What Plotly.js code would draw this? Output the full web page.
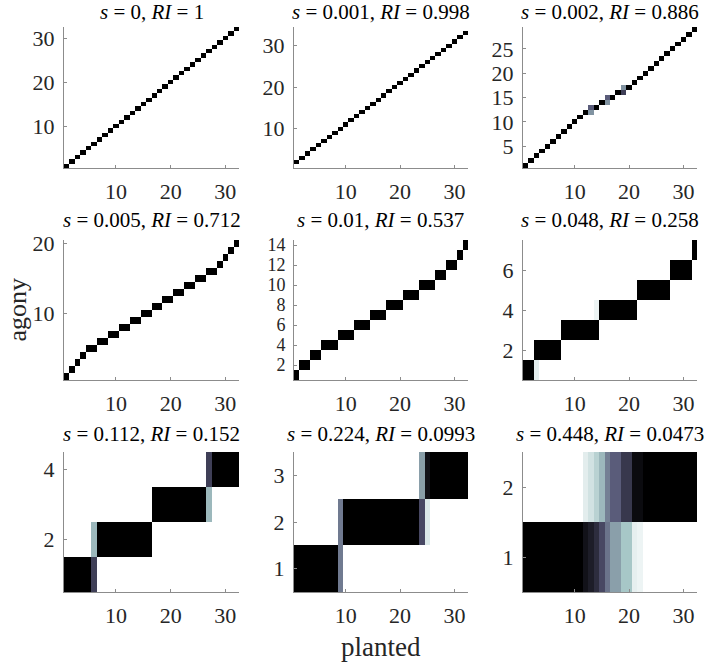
<!DOCTYPE html>
<html>
<head>
<meta charset="utf-8">
<script src="https://cdn.plot.ly/plotly-3.0.1.min.js"></script>
<style>
html,body{margin:0;padding:0;background:#fff;}
#chart{width:716px;height:666px;}
</style>
</head>
<body>
<div id="chart"></div>
<script>
// ---------------- DATA ----------------
const planted = [1,2,3,4,5,6,7,8,9,10,11,12,13,14,15,16,17,18,19,20,21,22,23,24,25,26,27,28,29,30,31,32];
const sValues  = ['0','0.001','0.002','0.005','0.01','0.048','0.112','0.224','0.448'];
const riValues = ['1','0.998','0.886','0.712','0.537','0.258','0.152','0.0993','0.0473'];
const nLevels  = [32, 34, 29, 20, 14, 7, 4, 3, 2];

// dominant agony level of every planted node (one per planted index)
const levelsP1 = [1,2,3,4,5,6,7,8,9,10,11,12,13,14,15,16,17,18,19,20,21,22,23,24,25,26,27,28,29,30,31,32];
const levelsP2 = [2,3,4,5,6,7,8,9,10,11,12,13,14,15,16,17,18,19,20,21,22,23,24,25,26,27,28,29,30,31,32,33];
const levelsP3 = [1,2,3,4,5,6,7,8,9,10,11,12,13,13,14,15,15,16,16,17,18,19,20,21,22,23,24,25,26,27,28,29];
const levelsP4 = [1,2,3,4,5,5,6,6,7,7,8,8,9,9,10,10,11,11,12,12,13,13,14,14,15,15,16,16,17,18,19,20];
const levelsP5 = [1,2,2,3,3,4,4,4,5,5,5,6,6,6,7,7,7,8,8,8,9,9,9,10,10,10,11,11,12,12,13,14];
const levelsP6 = [1,1,2,2,2,2,2,3,3,3,3,3,3,3,4,4,4,4,4,4,4,5,5,5,5,5,5,6,6,6,6,7];
const levelsP7 = [1,1,1,1,1,1,2,2,2,2,2,2,2,2,2,2,3,3,3,3,3,3,3,3,3,3,4,4,4,4,4,4];
const levelsP8 = [1,1,1,1,1,1,1,1,1,2,2,2,2,2,2,2,2,2,2,2,2,2,2,2,3,3,3,3,3,3,3,3];
const levelsP9 = [1,1,1,1,1,1,1,1,1,1,1,1,1,1,1,1,2,2,2,2,2,2,2,2,2,2,2,2,2,2,2,2];

// fractional memberships [planted, level, probability]
const splitsP1 = [];
const splitsP2 = [];
const splitsP3 = [[13,12,0.42],[13,13,0.6],[16,14,0.42],[16,15,0.6],[19,16,0.72],[19,17,0.42]];
const splitsP4 = [];
const splitsP5 = [];
const splitsP6 = [[3,1,0.08],[14,4,0.05]];
const splitsP7 = [[6,1,0.72],[6,2,0.3],[27,3,0.3],[27,4,0.72]];
const splitsP8 = [[9,1,0.5],[9,2,0.5],[24,2,0.68],[24,3,0.38],[25,2,0.1],[25,3,0.92]];
const splitsP9 = [
  [12,1,0.92],[12,2,0.08],
  [13,1,0.87],[13,2,0.13],
  [14,1,0.8],[14,2,0.2],
  [15,1,0.68],[15,2,0.3],
  [16,1,0.52],[16,2,0.48],
  [17,1,0.38],[17,2,0.6],
  [18,1,0.38],[18,2,0.6],
  [19,1,0.25],[19,2,0.75],
  [20,1,0.25],[20,2,0.75],
  [21,1,0.07],[21,2,0.95],
  [22,1,0.05],[22,2,0.95]
];

const yTicks = [[10,20,30],[10,20,30],[5,10,15,20,25],[10,20],[2,4,6,8,10,12,14],[2,4,6],[2,4],[1,2,3],[1,2]];
const xTicks = [10,20,30];

// ---------------- BUILD ----------------
const allLevels = [levelsP1,levelsP2,levelsP3,levelsP4,levelsP5,levelsP6,levelsP7,levelsP8,levelsP9];
const allSplits = [splitsP1,splitsP2,splitsP3,splitsP4,splitsP5,splitsP6,splitsP7,splitsP8,splitsP9];

// reversed MATLAB "bone"
const boneR = [[0,'rgb(255,255,255)'],[0.25,'rgb(167,199,199)'],[0.625,'rgb(84,84,116)'],[1,'rgb(0,0,0)']];

const W = 716, H = 666;
const colPx = [[64,239],[294,468],[523,697]];
const rowPx = [[27,168],[240,380],[452,592]];
const titleY = [12, 220, 434];
const FONT = 'Liberation Serif';

const traces = [];
const layout = {
  width: W, height: H,
  margin: {l:0, r:0, t:0, b:0},
  paper_bgcolor: '#fff', plot_bgcolor: '#fff',
  showlegend: false,
  font: {family: FONT, color: '#262626'},
  annotations: []
};

for (let k = 0; k < 9; k++) {
  const r = Math.floor(k/3), c = k % 3;
  const n = nLevels[k];
  const yvals = [];
  for (let i = 1; i <= n; i++) yvals.push(i);
  const z = yvals.map(() => planted.map(() => 0));
  allLevels[k].forEach((lv, j) => { z[lv-1][j] = 1; });
  allSplits[k].forEach(([x, lv, p]) => { z[lv-1][x-1] = p; });

  const ax = k === 0 ? '' : String(k+1);
  traces.push({
    type: 'heatmap', x: planted, y: yvals, z: z,
    zmin: 0, zmax: 1, colorscale: boneR, showscale: false,
    xaxis: 'x'+ax, yaxis: 'y'+ax, hoverinfo: 'skip'
  });

  const common = {
    showline: true, linecolor: '#8c8c8c', linewidth: 1,
    ticks: 'inside', ticklen: 3, tickcolor: '#8c8c8c', tickwidth: 1,
    showgrid: false, zeroline: false, mirror: false,
    tickfont: {family: FONT, size: 22, color: '#262626'},
    fixedrange: true, tickmode: 'array', ticklabelstandoff: 4
  };
  layout['xaxis'+ax] = Object.assign({}, common, {
    domain: [colPx[c][0]/W, colPx[c][1]/W],
    range: [0.5, 32.5], tickvals: xTicks,
    anchor: 'y'+ax
  });
  layout['yaxis'+ax] = Object.assign({}, common, {
    domain: [1 - rowPx[r][1]/H, 1 - rowPx[r][0]/H],
    range: [0.5, n + 0.5], tickvals: yTicks[k],
    anchor: 'x'+ax,
    tickfont: {family: FONT, size: (yTicks[k].length > 5 ? 18 : 22), color: '#262626'}
  });
  layout.annotations.push({
    xref: 'paper', yref: 'paper',
    x: (colPx[c][0] + colPx[c][1]) / 2 / W,
    y: 1 - titleY[r]/H, xanchor: 'center', yanchor: 'middle',
    text: '<i>s</i> = ' + sValues[k] + ', <i>RI</i> = ' + riValues[k],
    showarrow: false, font: {family: FONT, size: 21, color: '#000'}
  });
}

layout.annotations.push({
  xref: 'paper', yref: 'paper', x: 0, y: 1 - 310/H,
  xanchor: 'left', yanchor: 'middle', textangle: -90,
  text: 'agony', showarrow: false, font: {family: FONT, size: 26, color: '#262626'}
});
layout.annotations.push({
  xref: 'paper', yref: 'paper', x: 381/W, y: 1 - 647/H,
  xanchor: 'center', yanchor: 'middle',
  text: 'planted', showarrow: false, font: {family: FONT, size: 27, color: '#262626'}
});

Plotly.newPlot('chart', traces, layout, {displayModeBar: false, staticPlot: true});
</script>
</body>
</html>
